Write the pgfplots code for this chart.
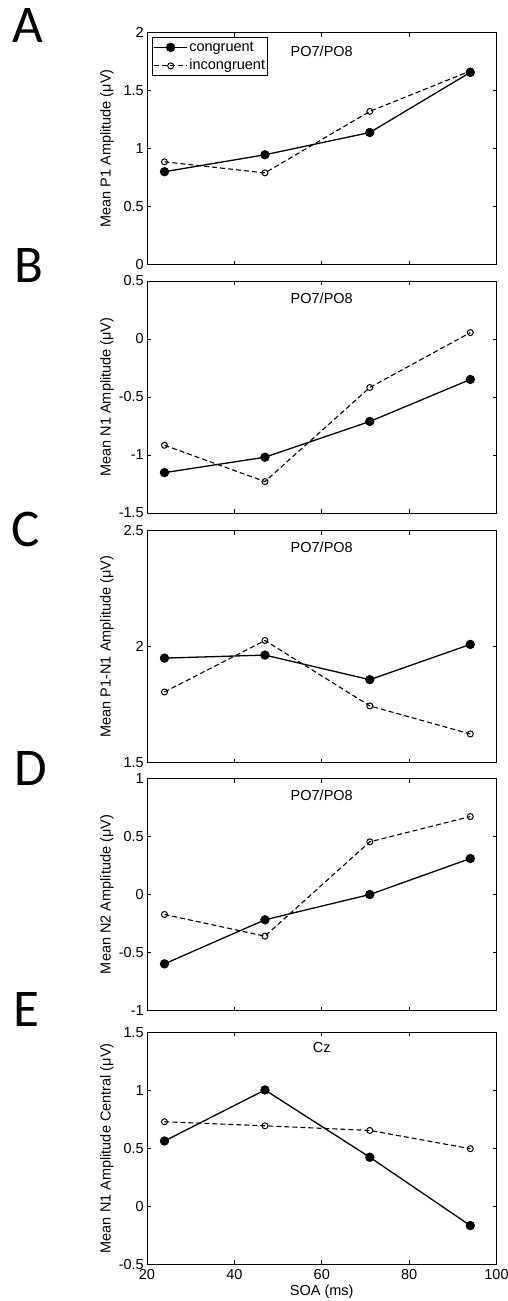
\documentclass[border=0pt]{standalone}
\usepackage{fontspec}
\setmainfont{Liberation Sans}
\newfontfamily\carlito{Carlito}
\usepackage{pgfplots}
\pgfplotsset{compat=1.18}
\newcommand{\tf}{\fontsize{14.5}{17}\selectfont}
\pgfplotsset{
  panel/.style={
    scale only axis, width=349.5pt, height=232pt,
    anchor=north west,
    xmin=20, xmax=100, xtick={20,40,60,80,100}, xticklabels={},
    tick align=inside, major tick length=4pt,
    axis line style={line width=1pt},
    every tick/.style={line width=0.8pt, black},
    tick label style={font=\tf},
    label style={font=\tf},
    ylabel style={at={(axis description cs:-0.115,0.5)}, anchor=center},
    yticklabel style={inner xsep=3pt},
  },
  cong/.style={black, line width=1.3pt, mark=*, mark size=4pt, mark options={solid, fill=black}},
  incong/.style={black, line width=1.1pt, dash pattern=on 5pt off 3pt, mark=o, mark size=3pt, mark options={solid, line width=1pt}},
}
\tikzset{
  ttl/.style={anchor=base, font=\tf},
  letter/.style={anchor=base west, inner sep=0pt, font=\carlito\fontsize{53}{60}\selectfont},
}
\begin{document}
\begin{tikzpicture}
\useasboundingbox (0pt,0pt) rectangle (508pt,-1301pt);
\node[letter] at (12pt,-42pt) {A};
\node[letter] at (14pt,-282pt) {B};
\node[letter] at (11pt,-546pt) {C};
\node[letter] at (14pt,-785pt) {D};
\node[letter] at (13pt,-1026pt) {E};

% A
\begin{axis}[panel, at={(147pt,-32.5pt)},
  ymin=0, ymax=2, ytick={0,0.5,1,1.5,2}, yticklabels={0,0.5,1,1.5,2},
  ylabel={Mean P1 Amplitude (μV)},
  legend style={at={(0.0143,0.98)}, anchor=north west, draw=black, line width=1pt,
    inner xsep=1pt, inner ysep=2pt, row sep=3pt, font=\tf,
    nodes={inner xsep=1.5pt, inner ysep=1pt, text height=10.5pt, text depth=3pt}},
  legend cell align=left,
  legend image code/.code={\draw[mark repeat=2,mark phase=2,#1] plot coordinates {(0pt,0pt) (16.5pt,0pt) (33pt,0pt)};},
]
\addplot[cong] coordinates {(24,0.80) (47,0.946) (71,1.138) (94,1.656)};
\addlegendentry{congruent}
\addplot[incong] coordinates {(24,0.885) (47,0.79) (71,1.32) (94,1.668)};
\addlegendentry{incongruent}
\node[ttl] at (rel axis cs:0.5,0.895) {PO7/PO8};
\end{axis}

% B
\begin{axis}[panel, at={(147pt,-281pt)},
  ymin=-1.5, ymax=0.5, ytick={-1.5,-1,-0.5,0,0.5}, yticklabels={-1.5,-1,-0.5,0,0.5},
  ylabel={Mean N1 Amplitude (μV)},
]
\addplot[cong] coordinates {(24,-1.152) (47,-1.019) (71,-0.711) (94,-0.349)};
\addplot[incong] coordinates {(24,-0.916) (47,-1.229) (71,-0.418) (94,0.055)};
\node[ttl] at (rel axis cs:0.5,0.904) {PO7/PO8};
\end{axis}

% C
\begin{axis}[panel, at={(147pt,-530.5pt)},
  ymin=1.5, ymax=2.5, ytick={1.5,2,2.5}, yticklabels={1.5,2,2.5},
  ylabel={Mean P1-N1 Amplitude (μV)},
]
\addplot[cong] coordinates {(24,1.95) (47,1.963) (71,1.857) (94,2.009)};
\addplot[incong] coordinates {(24,1.804) (47,2.026) (71,1.744) (94,1.623)};
\node[ttl] at (rel axis cs:0.5,0.906) {PO7/PO8};
\end{axis}

% D
\begin{axis}[panel, at={(147pt,-778.5pt)},
  ymin=-1, ymax=1, ytick={-1,-0.5,0,0.5,1}, yticklabels={-1,-0.5,0,0.5,1},
  ylabel={Mean N2 Amplitude (μV)},
]
\addplot[cong] coordinates {(24,-0.598) (47,-0.218) (71,0.0) (94,0.31)};
\addplot[incong] coordinates {(24,-0.172) (47,-0.359) (71,0.454) (94,0.672)};
\node[ttl] at (rel axis cs:0.5,0.905) {PO7/PO8};
\end{axis}

% E
\begin{axis}[panel, at={(147pt,-1032.3pt)},
  ymin=-0.5, ymax=1.5, ytick={-0.5,0,0.5,1,1.5}, yticklabels={-0.5,0,0.5,1,1.5},
  xticklabels={20,40,60,80,100},
  ylabel={Mean N1 Amplitude Central (μV)},
  xlabel={SOA (ms)},
  xticklabel style={inner ysep=4.5pt},
  xlabel style={inner ysep=1pt},
]
\addplot[cong] coordinates {(24,0.563) (47,1.003) (71,0.423) (94,-0.166)};
\addplot[incong] coordinates {(24,0.729) (47,0.694) (71,0.654) (94,0.497)};
\node[ttl] at (rel axis cs:0.5,0.911) {Cz};
\end{axis}
\end{tikzpicture}
\end{document}
